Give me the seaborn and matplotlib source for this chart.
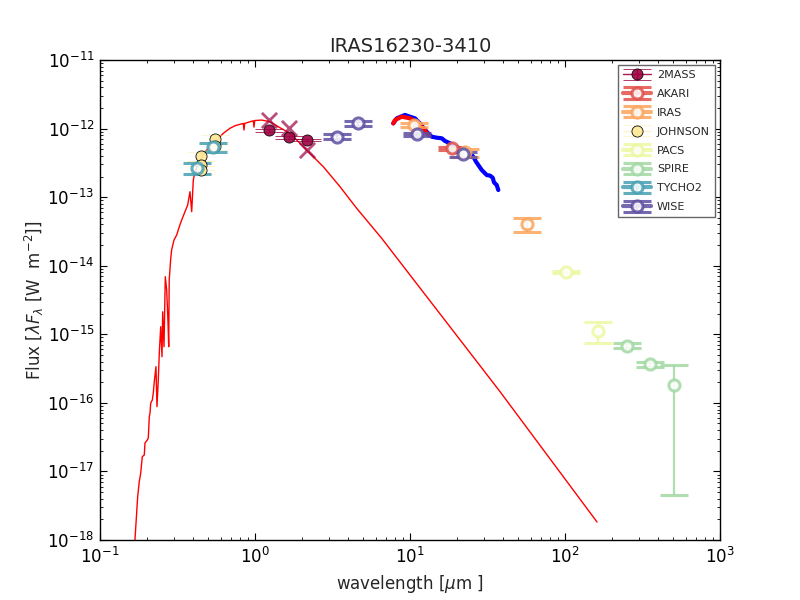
import numpy as np
import pandas as pd
import matplotlib
matplotlib.use("Agg")
import matplotlib.pyplot as plt
from matplotlib.lines import Line2D
import seaborn as sns

# ---------------- data ----------------
# model (stellar photosphere) spectrum, micron / W m^-2
model_wl = [0.167, 0.1750, 0.1792, 0.1830, 0.1874, 0.1931, 0.1951, 0.2019, 0.2049,
            0.2080, 0.2102, 0.2124, 0.2175, 0.2207, 0.2240, 0.2297, 0.2331, 0.2377,
            0.2413, 0.2464, 0.2512, 0.2538, 0.2588, 0.2638, 0.2693, 0.2747, 0.2775,
            0.2796, 0.2855, 0.2897, 0.3002, 0.3126, 0.3248, 0.3365, 0.3535, 0.3679,
            0.3806, 0.3905, 0.3999, 0.4101, 0.4757, 0.5661, 0.6245, 0.6898, 0.7431,
            0.8404, 0.8492, 0.858, 0.9750, 0.985, 0.996, 1.105, 1.250, 1.449, 1.682,
            1.858, 2.049, 2.758, 3.535, 4.530, 6.567, 38.07, 160.9]
model_flux = [8.0e-19, 4.28e-18, 7.1e-18, 9.4e-18, 1.64e-17, 1.74e-17, 2.60e-17, 2.87e-17,
              3.07e-17, 6.28e-17, 7.11e-17, 9.95e-17, 1.10e-16, 1.39e-16, 2.04e-16,
              3.37e-16, 8.8e-17, 2.15e-16, 5.33e-16, 1.29e-15, 4.71e-16, 2.13e-15,
              6.59e-16, 6.92e-15, 4.43e-15, 1.46e-15, 6.59e-16, 6.19e-15, 1.21e-14,
              1.69e-14, 2.37e-14, 2.81e-14, 3.71e-14, 4.64e-14, 6.14e-14, 7.68e-14,
              1.20e-13, 6.14e-14, 1.78e-13, 2.35e-13, 4.60e-13, 6.81e-13, 8.53e-13,
              1.01e-12, 1.10e-12, 1.19e-12, 9.53e-13, 1.19e-12, 1.30e-12, 1.05e-12,
              1.31e-12, 1.33e-12, 1.26e-12, 1.03e-12, 8.53e-13, 6.81e-13, 5.44e-13,
              2.78e-13, 1.42e-13, 6.87e-14, 2.51e-14, 1.46e-16, 1.83e-18]

# mid-IR spectrum (blue)
irs_wl = [7.80, 8.21, 9.28, 10.0, 10.77, 11.60, 12.81, 13.80, 14.87, 16.02, 16.82,
          18.12, 19.51, 21.02, 23.77, 25.61, 26.66, 27.58, 29.01, 31.26, 32.83,
          34.17, 34.84, 36.26, 37.13]
irs_flux = [1.19e-12, 1.41e-12, 1.58e-12, 1.49e-12, 1.41e-12, 1.19e-12, 9.0e-13,
            7.61e-13, 7.36e-13, 7.22e-13, 6.59e-13, 6.10e-13, 5.44e-13, 5.15e-13,
            4.60e-13, 3.89e-13, 3.29e-13, 2.94e-13, 2.49e-13, 2.10e-13, 2.06e-13,
            1.92e-13, 1.64e-13, 1.50e-13, 1.27e-13]

# short red spectral segment on top of it
seg_wl = [7.80, 8.00, 8.84, 10.0, 11.31, 12.18, 13.12]
seg_flux = [1.19e-12, 1.33e-12, 1.49e-12, 1.41e-12, 1.19e-12, 1.01e-12, 8.05e-13]

# photometry
bands = ["2MASS", "AKARI", "IRAS", "JOHNSON", "PACS", "SPIRE", "TYCHO2", "WISE"]

twomass_wl = [1.235, 1.662, 2.159]
twomass_flux = [9.5e-13, 7.5e-13, 6.8e-13]
twomass_err = [0.45e-13, 0.35e-13, 0.3e-13]

akari_wl = [18.6]
akari_flux = [5.15e-13]
akari_err = [0.3e-13]

iras_wl = [10.6, 22.8, 56.6]
iras_flux = [1.13e-12, 4.48e-13, 4.02e-14]
iras_err = [0.65e-13, 0.63e-13, 0.92e-14]

johnson_wl = [0.449, 0.449, 0.449, 0.552, 0.552]
johnson_flux = [3.98e-13, 2.94e-13, 2.49e-13, 7.0e-13, 5.6e-13]
johnson_err = [0.6e-13, 0.45e-13, 0.35e-13, 1.0e-13, 0.8e-13]

pacs_wl = [101.0, 164.0]
pacs_flux = [8.02e-15, 1.12e-15]
pacs_err = [0.25e-15, 3.8e-16]

spire_wl = [250.0, 353.0, 505.0]
spire_flux = [6.82e-16, 3.65e-16, 1.82e-16]
spire_err = [0.55e-16, 0.3e-16, 1.775e-16]

tycho_wl = [0.421, 0.538]
tycho_flux = [2.69e-13, 5.33e-13]
tycho_err = [0.5e-13, 0.75e-13]

wise_wl = [3.37, 4.64, 11.1, 21.9]
wise_flux = [7.61e-13, 1.19e-12, 8.25e-13, 4.21e-13]
wise_err = [0.6e-13, 0.95e-13, 0.45e-13, 0.3e-13]

# synthetic (model) photometry shown as crosses
synth_wl = [1.235, 1.662, 2.159]
synth_flux = [1.33e-12, 1.01e-12, 4.87e-13]

x_ticks = [0.1, 1, 10, 100, 1000]
y_ticks = [1e-18, 1e-17, 1e-16, 1e-15, 1e-14, 1e-13, 1e-12, 1e-11]

# ---------------- styling ----------------
sns.set_style("white")
plt.rcParams.update({
    "font.family": ["DejaVu Sans"],
    "xtick.direction": "in", "ytick.direction": "in",
    "xtick.top": True, "ytick.right": True,
    "xtick.bottom": True, "ytick.left": True,
    "xtick.major.size": 5, "ytick.major.size": 5,
    "xtick.minor.size": 2.5, "ytick.minor.size": 2.5,
    "xtick.major.width": 0.8, "ytick.major.width": 0.8,
    "xtick.minor.width": 0.6, "ytick.minor.width": 0.6,
    "xtick.major.pad": 5, "ytick.major.pad": 4,
    "xtick.color": "black", "ytick.color": "black",
    "axes.edgecolor": "black", "axes.linewidth": 1.0,
    "xtick.labelsize": 12, "ytick.labelsize": 12,
    "axes.labelsize": 12, "axes.titlesize": 14,
    "mathtext.default": "it",
})

fig, ax = plt.subplots(figsize=(8, 6), dpi=100)
fig.subplots_adjust(left=0.125, right=0.9, top=0.9, bottom=0.1)
ax.set_xscale("log")
ax.set_yscale("log")

cols = plt.cm.Spectral(np.linspace(0, 1, len(bands)))
cmap = dict(zip(bands, cols))

# spectra
sns.lineplot(x=model_wl, y=model_flux, ax=ax, color="red", lw=1.0,
             estimator=None, sort=False, zorder=2)
sns.lineplot(x=irs_wl, y=irs_flux, ax=ax, color="blue", lw=3.0,
             estimator=None, sort=False, zorder=2)
sns.lineplot(x=seg_wl, y=seg_flux, ax=ax, color="red", lw=3.0,
             estimator=None, sort=False, zorder=2)

# synthetic photometry crosses
sns.scatterplot(x=synth_wl, y=synth_flux, ax=ax, marker="x", s=120,
                color=cmap["2MASS"], alpha=0.7, linewidth=2.0, zorder=3)

phot = {
    "2MASS": (twomass_wl, twomass_flux, twomass_err),
    "AKARI": (akari_wl, akari_flux, akari_err),
    "IRAS": (iras_wl, iras_flux, iras_err),
    "JOHNSON": (johnson_wl, johnson_flux, johnson_err),
    "PACS": (pacs_wl, pacs_flux, pacs_err),
    "SPIRE": (spire_wl, spire_flux, spire_err),
    "TYCHO2": (tycho_wl, tycho_flux, tycho_err),
    "WISE": (wise_wl, wise_flux, wise_err),
}

handles = []
for b in bands:
    wl, fl, er = phot[b]
    c = cmap[b]
    if b in ("2MASS", "JOHNSON"):
        a = 0.9 if b == "2MASS" else 0.95
        h = ax.errorbar(wl, fl, yerr=er, fmt="o", ms=8, mfc=c, mec="black", mew=0.6,
                        ecolor=c, elinewidth=1.0, capsize=10, capthick=1.0,
                        alpha=a, label=b, zorder=4)
        if b == "JOHNSON":
            for ln in h[1] + h[2]:
                ln.set_alpha(0.5)
        bar = Line2D([], [], color=c, lw=1.0, alpha=0.5 if b == "JOHNSON" else 0.9)
    else:
        h = ax.errorbar(wl, fl, yerr=er, fmt="o", ms=8, mfc="white", mec=c, mew=2.2,
                        ecolor=c, elinewidth=1.6, capsize=10, capthick=3.0,
                        alpha=0.85, label=b, zorder=4)
        bar = Line2D([], [], color=c, lw=3.0, alpha=0.85)
    handles.append((bar, h))

ax.set_xticks(x_ticks)
ax.set_yticks(y_ticks)
ax.set_xlim(0.1, 1000)
ax.set_ylim(1e-18, 1e-11)
ax.set_title("IRAS16230-3410")
ax.set_xlabel(r"wavelength [$\mu$m ]")
ax.set_ylabel(r"Flux [$\lambda F_\lambda$ [W  m$^{-2}$]]", labelpad=1)

leg = ax.legend(handles, bands, loc="upper right", fontsize=8, numpoints=1,
                frameon=True, fancybox=False, framealpha=1, edgecolor="0.4",
                handlelength=2.6, handletextpad=0.5, labelspacing=0.8,
                borderaxespad=0.45, borderpad=0.45)
leg.get_frame().set_linewidth(1.0)

fig.savefig("out.png", dpi=100, facecolor="white")
